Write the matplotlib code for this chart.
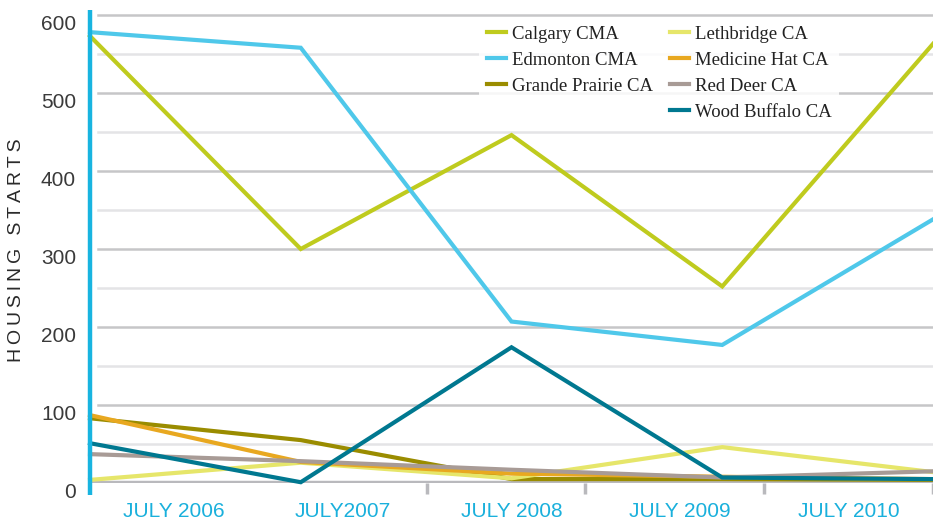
import matplotlib
matplotlib.use("Agg")
import matplotlib.pyplot as plt
from matplotlib.lines import Line2D
from matplotlib.transforms import ScaledTranslation

years = ["JULY 2006", "JULY2007", "JULY 2008", "JULY 2009", "JULY 2010"]
series_names = ["Calgary CMA", "Edmonton CMA", "Grande Prairie CA",
                "Lethbridge CA", "Medicine Hat CA", "Red Deer CA", "Wood Buffalo CA"]
calgary = [573, 300, 446, 252, 563]
edmonton = [578, 558, 207, 177, 338]
grande_prairie = [83, 55, 5, 5, 4]
lethbridge = [4, 26, 6, 46, 14]
medicine_hat = [87, 27, 12, 8, 5]
red_deer = [37, 28, 17, 7, 15]
wood_buffalo = [51, 1, 174, 7, 5]
series_values = [calgary, edmonton, grande_prairie, lethbridge, medicine_hat, red_deer, wood_buffalo]
colors = ["#bfcb1e", "#4fc8ea", "#9a8c00", "#e6e66a", "#e8a820", "#a89b96", "#007890"]

yticks = [0, 100, 200, 300, 400, 500, 600]
minor_grid = [50, 150, 250, 350, 450, 550]
xtick_marks = [1.6, 2.35, 3.2, 4.0]

fig = plt.figure(figsize=(9.33, 5.23), dpi=100)
ax = fig.add_axes([90/933, 40/523, 843/933, 473/523])
ax.set_xlim(0, 4)
ax.set_ylim(0, 473/0.78)

gx0 = 8/843
for v in yticks[1:]:
    ax.axhline(v, xmin=gx0, color="#c6c6c8", lw=1.8, zorder=1)
for v in minor_grid:
    ax.axhline(v, xmin=gx0, color="#e4e4e6", lw=1.8, zorder=1)
ax.axhline(0, color="#b9b9bd", lw=3.2, zorder=1.5)

xs = list(range(len(years)))
handles = []
for name, vals, c in zip(series_names, series_values, colors):
    h, = ax.plot(xs, vals, color=c, lw=3.0, solid_joinstyle="miter", zorder=3, clip_on=False)
    handles.append(h)

for s in ax.spines.values():
    s.set_visible(False)
ax.plot([0, 0], [-12/473, 1.0], transform=ax.transAxes, color="#18b4e0", lw=3.2,
        clip_on=False, zorder=5, solid_capstyle="butt")

# y ticks
ax.set_yticks(yticks)
ax.set_yticklabels([str(v) for v in yticks])
ax.tick_params(axis="y", length=0, pad=10, labelsize=15, labelcolor="#3a3a3a")
for lab in ax.get_yticklabels():
    lab.set_fontfamily("Liberation Sans")
    lab.set_transform(lab.get_transform() + ScaledTranslation(0, -8/100, fig.dpi_scale_trans))

# x ticks: labels centered in bands, marks at band edges
ax.set_xticks([(i + 0.5) * 0.8 for i in range(len(years))])
ax.set_xticklabels(years)
ax.tick_params(axis="x", which="major", length=0, pad=14, labelsize=15, labelcolor="#1ab0dc")
for lab in ax.get_xticklabels():
    lab.set_fontfamily("Liberation Sans")
ax.set_xticks(xtick_marks, minor=True)
ax.tick_params(axis="x", which="minor", length=8, width=2.5, color="#b9b9bd", direction="out")

ylabel = "\u2009".join("HOUSING") + "\u2009 \u2009" + "\u2009".join("STARTS")
fig.text(17/933, 1 - 250/523, ylabel, rotation=90, ha="center", va="center",
         fontsize=14, color="#2a2a2a", fontfamily="Liberation Sans")

blank = Line2D([], [], color="none")
order = [handles[0], handles[1], handles[2], blank, handles[3], handles[4], handles[5], handles[6]]
labels = [series_names[0], series_names[1], series_names[2], "",
          series_names[3], series_names[4], series_names[5], series_names[6]]
leg = ax.legend(order, labels, ncol=2, loc="upper left", bbox_to_anchor=(389/843, 1 - 8/473),
                frameon=True, fancybox=False, framealpha=0.85, edgecolor="none",
                prop={"family": "Liberation Serif", "size": 13.5}, handlelength=1.05,
                handletextpad=0.3, columnspacing=0.9, labelspacing=0.48,
                borderpad=0.4, borderaxespad=0)
leg.set_zorder(4)
for t in leg.get_texts():
    t.set_color("#222222")

fig.savefig("out.png", dpi=100)
